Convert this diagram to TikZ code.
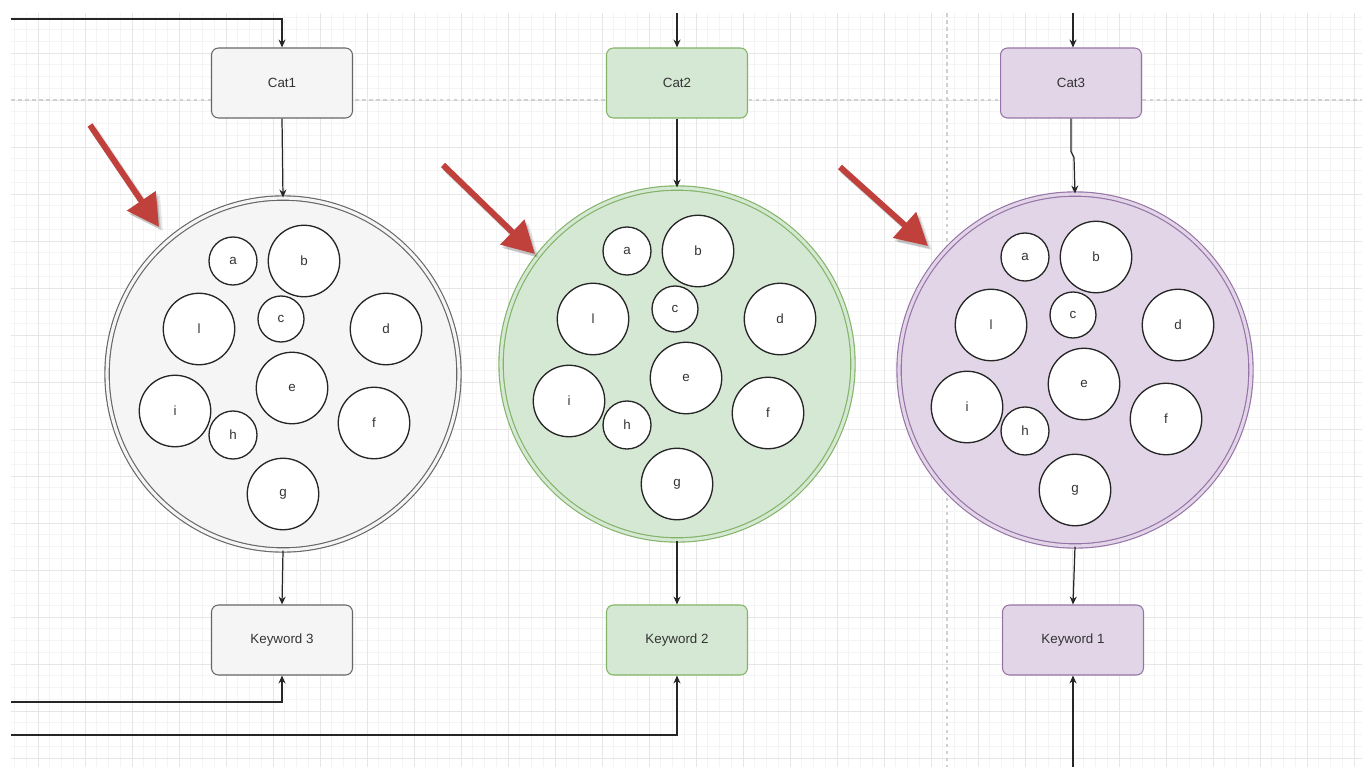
\documentclass[tikz,border=0pt]{standalone}
\usepackage{fontspec}
\setmainfont{Liberation Sans}
\usetikzlibrary{arrows.meta,calc}
\definecolor{grayfill}{HTML}{F5F5F5}
\definecolor{graystroke}{HTML}{666666}
\definecolor{greenfill}{HTML}{D5E8D4}
\definecolor{greenstroke}{HTML}{82B366}
\definecolor{purplefill}{HTML}{E1D5E7}
\definecolor{purplestroke}{HTML}{9673A6}
\definecolor{redarrow}{HTML}{C0403C}
\definecolor{txt}{HTML}{333333}
\definecolor{gridminor}{HTML}{F4F4F4}
\definecolor{gridmajor}{HTML}{E6E6E6}
\definecolor{pagebreak}{HTML}{D0D0D0}
\newcommand\drawinnerset[2]{%
  \node[sc,smallc] (#1a) at ($(#2)+(-50,-113)$) {a};
  \node[sc,bigcc]  (#1b) at ($(#2)+(21,-113)$) {b};
  \node[sc,midc]   (#1c) at ($(#2)+(-2,-55)$) {c};
  \node[sc,bigcc]  (#1l) at ($(#2)+(-84,-45)$) {l};
  \node[sc,bigcc]  (#1d) at ($(#2)+(103,-45)$) {d};
  \node[sc,bigcc]  (#1e) at ($(#2)+(9,14)$) {e};
  \node[sc,bigcc]  (#1i) at ($(#2)+(-108,37)$) {i};
  \node[sc,smallc] (#1h) at ($(#2)+(-50,61)$) {h};
  \node[sc,bigcc]  (#1f) at ($(#2)+(91,49)$) {f};
  \node[sc,bigcc]  (#1g) at ($(#2)+(0,120)$) {g};
}
\begin{document}
\begin{tikzpicture}[x=0.02cm,y=-0.02cm,
  lbl/.style={font=\fontsize{7.6}{9}\selectfont, text=txt},
  box/.style={draw, rounded corners=0.14cm, minimum width=2.82cm, minimum height=1.4cm, line width=0.6pt, lbl},
  bigc/.style 2 args={circle, draw=#2, fill=#1, double=#1, double distance=1.8pt, line width=0.65pt, minimum size=7.04cm, inner sep=0pt},
  sc/.style={circle, draw=black!85, fill=white, line width=0.75pt, inner sep=0pt, lbl},
  smallc/.style={minimum size=0.96cm},
  midc/.style={minimum size=0.92cm},
  bigcc/.style={minimum size=1.43cm},
  conn/.style={draw=black!85, line width=0.7pt, -{Stealth[length=4.5pt,width=4pt]}},
  redarr/.style={draw=redarrow, line width=3.4pt, -{Triangle[length=18pt,width=19pt]}},
  redshadow/.style={draw=black, opacity=#1, line width=3.4pt, -{Triangle[length=18pt,width=19pt]}},
]
\useasboundingbox (0,0) rectangle (1362,767);
\fill[white] (0,0) rectangle (1362,767);
% grid
\begin{scope}
\clip (11,13) rectangle (1362,767);
\foreach \k in {-2,...,112} {\draw[gridminor, line width=0.4pt] ({38+11.75*\k},13) -- ({38+11.75*\k},767);}
\foreach \k in {-3,...,60} {\draw[gridminor, line width=0.4pt] (11,{53+11.75*\k}) -- (1362,{53+11.75*\k});}
\foreach \k in {0,...,28} {\draw[gridmajor, line width=0.5pt] ({38+47*\k},13) -- ({38+47*\k},767);}
\foreach \k in {-1,...,15} {\draw[gridmajor, line width=0.5pt] (11,{53+47*\k}) -- (1362,{53+47*\k});}
\draw[pagebreak, line width=0.6pt, dash pattern=on 2pt off 2pt] (11,100) -- (1362,100);
\draw[pagebreak, line width=0.6pt, dash pattern=on 2pt off 2pt] (947,13) -- (947,767);
\end{scope}

% boxes
\node[box, draw=graystroke, fill=grayfill] (Cat1) at (282,83) {Cat1};
\node[box, draw=greenstroke, fill=greenfill] (Cat2) at (677,83) {Cat2};
\node[box, draw=purplestroke, fill=purplefill] (Cat3) at (1071,83) {Cat3};
\node[box, draw=graystroke, fill=grayfill] (K3) at (282,640) {Keyword 3};
\node[box, draw=greenstroke, fill=greenfill] (K2) at (677,640) {Keyword 2};
\node[box, draw=purplestroke, fill=purplefill] (K1) at (1073,640) {Keyword 1};

% big circles
\node[bigc={grayfill}{graystroke}] (C1) at (283,374) {};
\node[bigc={greenfill}{greenstroke}] (C2) at (677,364) {};
\node[bigc={purplefill}{purplestroke}] (C3) at (1075,370) {};

\drawinnerset{p}{C1}
\drawinnerset{q}{C2}
\drawinnerset{r}{C3}

% connectors
\coordinate (tl) at (11,19);
\coordinate (top2) at (677,13);
\coordinate (top3) at (1073,13);
\coordinate (bl1) at (11,702);
\coordinate (bl2) at (11,735);
\coordinate (bot3) at (1073,767);
\draw[conn] (tl) -| (Cat1.north);
\draw[conn] (top2) -- (Cat2.north);
\draw[conn] (top3) -- (top3 |- Cat3.north);
\draw[conn] (Cat1.south) -- (C1.north);
\draw[conn] (Cat2.south) -- (C2.north);
\coordinate (j3) at ($(Cat3.south)+(0,33)$);
\draw[conn] (Cat3.south) -- (j3) -- ($(j3)+(3,6)$) -- (C3.north);
\draw[conn] (C1.south) -- (K3.north);
\draw[conn] (C2.south) -- (K2.north);
\draw[conn] (C3.south) -- (K1.north);
\draw[conn] (bl1) -| (K3.south);
\draw[conn] (bl2) -| (K2.south);
\draw[conn] (bot3) -- (K1.south);

% red arrows
\coordinate (ra1) at (90,125);  \coordinate (rb1) at (159,227);
\coordinate (ra2) at (443,165); \coordinate (rb2) at (535,254);
\coordinate (ra3) at (840,167); \coordinate (rb3) at (928,246);
\foreach \n in {1,2,3} {
  \draw[redshadow=0.10] ($(ra\n)+(4,4)$) -- ($(rb\n)+(4,4)$);
  \draw[redshadow=0.14] ($(ra\n)+(2,3)$) -- ($(rb\n)+(2,3)$);
  \draw[redarr] (ra\n) -- (rb\n);
}
\end{tikzpicture}
\end{document}
